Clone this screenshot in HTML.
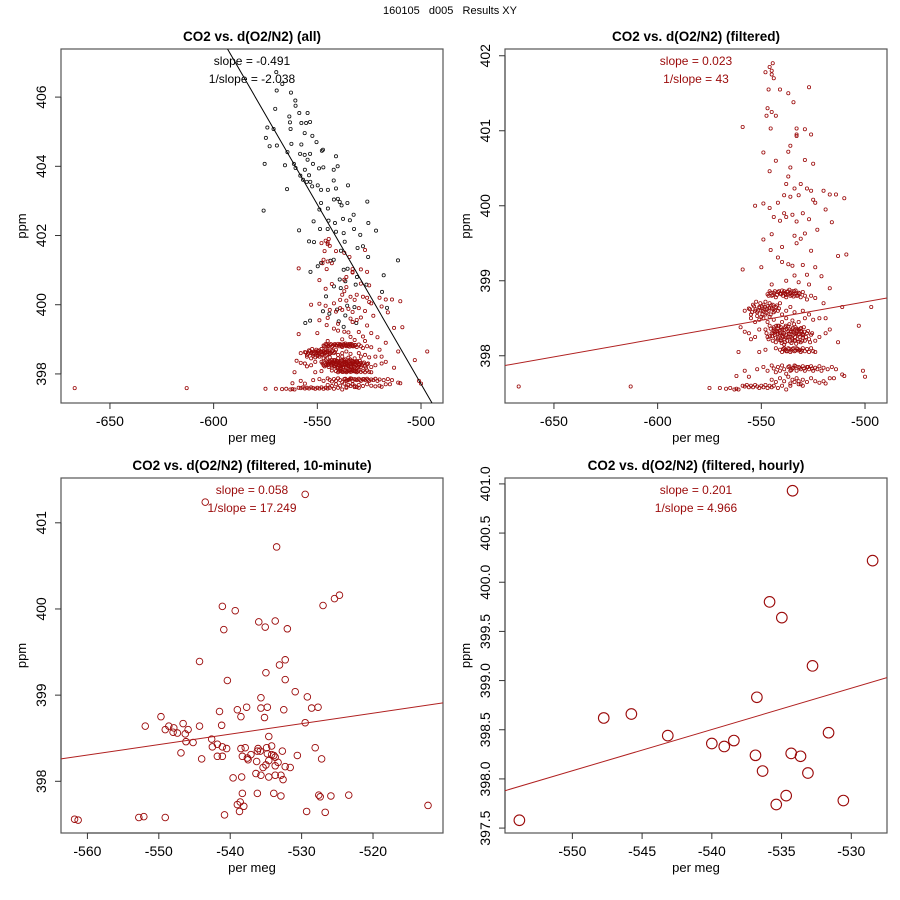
<!DOCTYPE html>
<html><head><meta charset="utf-8"><style>
body{margin:0;background:#fff}
svg{display:block;font-family:"Liberation Sans",Arial,sans-serif}
</style></head><body>
<svg id="chart" width="900" height="900" viewBox="0 0 900 900">
<rect x="0" y="0" width="900" height="900" fill="#fff"/>
<text x="450" y="14" text-anchor="middle" font-size="11" fill="#000" style="white-space:pre" xml:space="preserve">160105   d005   Results XY</text>
</svg>
<script>
// ---------- data ----------
const blackOnlyPts = [[-569.8,406.72],[-566.9,406.38],[-569.6,406.19],[-562.7,406.13],[-560.6,405.9],[-560.5,405.75],[-570.3,405.66],[-558.7,405.54],[-554.7,405.54],[-563.5,405.44],[-563.2,405.27],[-557.7,405.25],[-555.4,405.25],[-553.5,405.28],[-574.1,405.12],[-562.9,405.08],[-571.1,405.08],[-556.1,404.96],[-552.4,404.88],[-574.8,404.82],[-573,404.58],[-569.5,404.6],[-562.5,404.65],[-557.7,404.63],[-550.4,404.7],[-547.8,404.45],[-547.3,404.48],[-564.4,404.41],[-558.3,404.36],[-556.1,404.33],[-553.5,404.36],[-554.7,404.19],[-561.3,404.07],[-560.5,403.95],[-565.6,404.03],[-552.1,404.07],[-549.2,403.94],[-547.1,403.97],[-541,404.29],[-540.2,404.0],[-542.1,403.9],[-556,403.9],[-558.2,403.73],[-554,403.74],[-556.9,403.61],[-555.1,403.55],[-553.4,403.55],[-552.5,403.42],[-542.1,403.59],[-535.2,403.45],[-564.6,403.34],[-549.8,403.45],[-548.2,403.32],[-544.9,403.32],[-541,403.36],[-542,403.04],[-540.1,403.06],[-539.2,402.97],[-538.3,402.87],[-535.5,402.94],[-548.2,402.94],[-544.9,402.78],[-549,402.75],[-525.9,402.98],[-532.5,402.6],[-537.6,402.48],[-534.3,402.44],[-551.8,402.41],[-544.6,402.43],[-541.5,402.36],[-525.4,402.36],[-548.7,402.19],[-545,402.19],[-532.3,402.19],[-541,402.11],[-537.3,402.07],[-521.7,402.14],[-558.8,402.15],[-529.3,402.02],[-536.8,401.82],[-554,401.83],[-551.6,401.81],[-530.6,401.64],[-528,401.69],[-538.6,401.56],[-548.2,401.21],[-543.7,401.27],[-542.1,401.3],[-525.5,401.38],[-511.1,401.28],[-549.8,401.11],[-553.3,400.95],[-537.3,401.01],[-535.4,401.04],[-530.9,400.8],[-518,400.85],[-539.2,400.73],[-536.5,400.68],[-531.5,400.58],[-526.3,400.58],[-518.8,400.37],[-516.4,399.91],[-545.8,400.24],[-542,400.53],[-538.7,400.48],[-535.6,399.97],[-532.1,399.93],[-536.5,399.69],[-544.2,399.74],[-540.5,399.86],[-555.8,399.47],[-553.5,399.54],[-539.7,399.52],[-531.2,399.47],[-575.9,402.72],[-575.4,404.07],[-537.3,399.36],[-547.3,399.81]];

const filteredPts = [[-546,401.85],[-544.5,401.9],[-545,401.8],[-548,401.78],[-544,401.7],[-545,401.75],[-541,401.55],[-546.5,401.55],[-537,401.5],[-527,401.58],[-534.5,401.38],[-547,401.3],[-547.5,401.2],[-545,401.25],[-543,401.2],[-559,401.05],[-545.5,401.03],[-533,401.03],[-529,401.02],[-533,400.95],[-533,400.93],[-526,400.95],[-536,400.8],[-537,400.72],[-549,400.71],[-543,400.6],[-529,400.61],[-525,400.56],[-546,400.46],[-536,400.51],[-537,400.39],[-538,400.29],[-531,400.29],[-528,400.23],[-526,400.2],[-534,400.23],[-539,400.14],[-532,400.14],[-520,400.2],[-514,400.15],[-510,400.1],[-517,400.15],[-524,400.04],[-525,400.08],[-536,400.12],[-542,400.04],[-549,400.03],[-553,400.0],[-546,399.97],[-544,399.85],[-539,399.9],[-541,399.8],[-538,399.85],[-535,399.88],[-530,399.9],[-527,399.82],[-533,399.79],[-519,399.95],[-516,399.78],[-523,399.68],[-529,399.63],[-534,399.6],[-545,399.62],[-549,399.55],[-531,399.56],[-540,399.45],[-533,399.5],[-526,399.4],[-545.5,399.41],[-542,399.31],[-509,399.35],[-513,399.33],[-540,399.25],[-535,399.2],[-537,399.22],[-530,399.21],[-524,399.18],[-550,399.18],[-528,399.08],[-534,399.07],[-521,399.06],[-559,399.15],[-538,399.0],[-545,398.95],[-532,398.98],[-527,398.95],
[-547,398.82],[-546,398.86],[-545,398.8],[-544,398.84],[-543,398.78],[-542,398.85],[-541,398.83],[-540,398.87],[-539.5,398.8],[-539,398.86],[-538.5,398.83],[-538,398.78],[-537.5,398.85],[-537,398.82],[-536.5,398.88],[-536,398.8],[-535.5,398.84],[-535,398.86],[-534.5,398.79],[-534,398.83],[-533.5,398.87],[-533,398.8],[-532,398.84],[-531,398.78],[-530,398.85],[-529,398.8],[-528,398.75],[-526,398.8],[-524,398.77],[-520,398.7],[-517,398.9],
[-558,398.6],[-556,398.63],[-555,398.55],[-554,398.68],[-553,398.6],[-552.5,398.72],[-552,398.58],[-551,398.65],[-550.5,398.7],[-550,398.6],[-549.5,398.55],[-549,398.68],[-548.5,398.62],[-548,398.72],[-547.5,398.57],[-547,398.66],[-546.5,398.6],[-546,398.7],[-545.5,398.55],[-545,398.63],[-544.5,398.68],[-544,398.58],[-543,398.65],[-542,398.6],[-541,398.7],[-540,398.55],[-538,398.6],[-536,398.65],[-534,398.58],[-530,398.6],[-527,398.55],[-522,398.5],[-511,398.65],[-497,398.65],
[-555,398.5],[-553,398.45],[-551,398.48],[-549,398.5],[-547,398.45],[-546,398.52],[-544,398.48],[-542,398.4],[-540,398.45],[-538,398.5],[-535,398.47],[-532,398.45],[-529,398.5],[-525,398.48],[-519,398.5],
[-548,398.35],[-547,398.25],[-546,398.4],[-545,398.3],[-544.5,398.2],[-544,398.38],[-543.5,398.28],[-543,398.18],[-542.5,398.33],[-542,398.23],[-541.5,398.4],[-541,398.3],[-540.5,398.2],[-540,398.35],[-539.5,398.25],[-539,398.15],[-538.5,398.38],[-538,398.28],[-537.5,398.2],[-537,398.33],[-536.5,398.42],[-536,398.25],[-535.5,398.17],[-535,398.35],[-534.5,398.28],[-534,398.2],[-533.5,398.38],[-533,398.3],[-532.5,398.22],[-532,398.35],[-531.5,398.25],[-531,398.18],[-530.5,398.32],[-530,398.24],[-529.5,398.38],[-529,398.2],[-528,398.3],[-527,398.22],[-526,398.28],[-524,398.2],[-522,398.25],[-519,398.3],[-517,398.35],[-513,398.18],[-503,398.4],
[-545.5,398.36],[-544.8,398.26],[-543.2,398.32],[-541.8,398.36],[-540.8,398.27],[-539.8,398.31],[-538.8,398.22],[-537.8,398.36],[-536.8,398.29],[-535.8,398.32],[-534.8,398.37],[-533.8,398.25],[-532.8,398.33],[-531.8,398.29],[-530.8,398.37],[-529.8,398.27],[-538.2,398.4],[-534.2,398.42],[-536.2,398.19],[-533.2,398.16],[-540.2,398.17],[-542.8,398.4],
[-556,398.3],[-553,398.25],[-551,398.35],[-555,398.22],[-558,398.32],[-560,398.38],
[-541,398.08],[-540,398.05],[-539,398.1],[-538,398.06],[-537,398.1],[-536,398.05],[-535,398.09],[-534,398.06],[-533,398.1],[-532,398.07],[-531,398.05],[-530,398.1],[-529,398.06],[-528,398.09],[-527,398.05],[-526,398.1],[-525,398.06],[-543,398.1],[-548,398.08],[-551,398.05],[-561,398.05],[-524,398.05],
[-552,397.82],[-549,397.85],[-547,397.8],[-545,397.87],[-544,397.83],[-543,397.78],[-542,397.85],[-541,397.8],[-540,397.87],[-539,397.82],[-538,397.76],[-537,397.85],[-536,397.8],[-535,397.83],[-534,397.87],[-533,397.8],[-532,397.85],[-531,397.82],[-530,397.86],[-529,397.8],[-528,397.85],[-527,397.82],[-526,397.86],[-525,397.8],[-524,397.84],[-523,397.82],[-522,397.86],[-521,397.8],[-520,397.84],[-518,397.82],[-516,397.85],[-514,397.82],[-511,397.75],[-510,397.73],[-501,397.8],[-500,397.72],[-558,397.8],[-556,397.72],[-562,397.73],
[-545,397.68],[-543,397.65],[-541,397.7],[-539,397.66],[-537,397.72],[-536,397.63],[-535,397.68],[-534,397.65],[-533,397.7],[-532,397.66],[-531,397.62],[-530,397.68],[-528,397.65],[-526,397.7],[-524,397.66],[-522,397.64],[-520,397.66],[-519,397.63],[-517,397.7],[-515,397.7],
[-575,397.57],[-570,397.57],[-567,397.56],[-565,397.57],[-563,397.55],[-562,397.56],[-561,397.55],[-559,397.6],[-558,397.59],[-557,397.61],[-556,397.58],[-555,397.6],[-554,397.58],[-553,397.61],[-552,397.59],[-551,397.57],[-550,397.6],[-549,397.58],[-548,397.61],[-547,397.57],[-546,397.6],[-545,397.58],[-544,397.6],[-542,397.57],[-540,397.6],[-538,397.55],[-536,397.6],[-532,397.62],[-530,397.6],[-667,397.59],[-613,397.59]];

const filteredPtsDense = [[-555.5,398.62],[-554.5,398.58],[-553.5,398.66],[-552.8,398.62],[-551.5,398.6],[-550.8,398.64],[-549.8,398.66],[-549.2,398.6],[-548.2,398.65],[-547.2,398.62],[-546.2,398.64],[-545.2,398.67],[-544.2,398.62],[-543.5,398.6],[-542.5,398.67],[-541.5,398.63],[-552,398.53],[-550,398.52],[-548,398.55],
[-546.5,398.8],[-545.5,398.84],[-544.5,398.81],[-543.5,398.86],[-542.5,398.81],[-541.5,398.86],[-540.5,398.82],[-539.2,398.84],[-538.2,398.81],[-537.2,398.86],[-536.2,398.83],[-535.2,398.81],[-534.2,398.86],[-533.2,398.83],[-532.5,398.8],[-531.5,398.83],
[-547.5,398.3],[-546.5,398.22],[-545.8,398.26],[-544.2,398.3],[-543.8,398.36],[-542.2,398.29],[-541.2,398.21],[-540.6,398.38],[-539.2,398.34],[-538.6,398.18],[-537.2,398.25],[-536.6,398.35],[-535.2,398.24],[-534.6,398.32],[-533.6,398.2],[-532.2,398.28],[-531.2,398.36],[-530.2,398.2],[-529.2,398.32],[-528.5,398.25],[-527.5,398.33],[-526.5,398.18],[-525.5,398.3],
[-539,398.3],[-538,398.24],[-537,398.39],[-536,398.29],[-535,398.22],[-534,398.3],[-533,398.36],[-532,398.19],[-531,398.33],[-530,398.29],[-540,398.26],[-541,398.34],[-542,398.31],[-543,398.24],[-544,398.33],
[-539.5,398.09],[-538.5,398.08],[-537.5,398.06],[-536.5,398.09],[-535.5,398.07],[-534.5,398.1],[-533.5,398.07],[-532.5,398.09],[-531.5,398.08],[-530.5,398.07],
[-536.5,397.86],[-535.5,397.81],[-534.5,397.84],[-533.5,397.86],[-531.5,397.84],[-529.5,397.83],[-527.5,397.85],[-525.5,397.83]];

const tenMinX = [-543.5,-529.5,-533.5,-541.1,-539.3,-527.0,-525.4,-524.7,-536.0,-533.7,-535.1,-540.9,-532.0,-544.3,-532.3,-533.1,-535.0,-540.4,-532.3,-530.9,-535.7,-529.2,-539.0,-537.7,-535.7,-534.8,-528.6,-527.7,-541.5,-532.5,-538.5,-535.2,-549.7,-551.9,-548.6,-547.9,-546.6,-544.3,-541.2,-529.5,-549.1,-548.0,-547.4,-546.3,-545.9,-546.2,-545.2,-542.6,-534.6,-542.5,-541.8,-541.1,-540.5,-538.5,-537.9,-536.1,-535.8,-534.9,-534.2,-546.9,-544.0,-541.8,-541.1,-538.3,-537.5,-537.1,-537.6,-536.3,-536.2,-534.8,-534.2,-533.9,-532.7,-530.6,-528.1,-527.2,-534.6,-533.7,-533.3,-535.0,-535.4,-533.7,-532.3,-531.6,-536.4,-535.7,-534.6,-533.7,-532.9,-532.6,-539.6,-538.4,-538.3,-536.2,-533.9,-532.9,-527.6,-527.4,-525.9,-523.4,-539.0,-538.6,-538.1,-538.7,-540.8,-529.3,-526.7,-512.3,-561.8,-561.3,-552.8,-552.1,-549.1];
const tenMinY = [401.24,401.33,400.72,400.03,399.98,400.04,400.12,400.16,399.85,399.86,399.79,399.76,399.77,399.39,399.41,399.35,399.26,399.17,399.18,399.04,398.97,398.98,398.83,398.86,398.85,398.86,398.85,398.86,398.81,398.83,398.75,398.74,398.75,398.64,398.64,398.62,398.67,398.64,398.65,398.68,398.60,398.57,398.56,398.55,398.60,398.46,398.45,398.49,398.52,398.40,398.43,398.40,398.38,398.38,398.39,398.38,398.35,398.39,398.41,398.33,398.26,398.29,398.29,398.29,398.25,398.31,398.27,398.23,398.35,398.32,398.31,398.30,398.35,398.30,398.39,398.26,398.24,398.28,398.22,398.19,398.16,398.18,398.17,398.16,398.09,398.07,398.05,398.07,398.07,398.02,398.04,398.05,397.86,397.86,397.86,397.83,397.84,397.82,397.83,397.84,397.73,397.76,397.71,397.65,397.61,397.65,397.64,397.72,397.56,397.55,397.58,397.59,397.58];

const hourlyX = [-553.8,-547.75,-545.77,-543.16,-540.0,-539.11,-538.42,-536.87,-536.77,-536.36,-535.86,-534.98,-535.38,-534.67,-534.31,-534.21,-533.64,-533.11,-532.78,-531.63,-530.57,-528.47];
const hourlyY = [397.58,398.62,398.66,398.44,398.36,398.33,398.39,398.24,398.83,398.08,399.80,399.64,397.74,397.83,398.26,400.93,398.23,398.06,399.15,398.47,397.78,400.22];

const fitAllX = [-593.3,-494.7], fitAllY = [407.39,397.16];
const fitFiltX = [-673.6,-489.4], fitFiltY = [397.87,398.77];
const fitTenX = [-563.7,-510.2], fitTenY = [398.26,398.91];
const fitHourX = [-554.83,-527.44], fitHourY = [397.88,399.03];

const xTicksTop = [-650,-600,-550,-500];
const yTicksAll = [398,400,402,404,406];
const yTicksFilt = [398,399,400,401,402];
const xTicksTen = [-560,-550,-540,-530,-520];
const yTicksTen = [398,399,400,401];
const xTicksHour = [-550,-545,-540,-535,-530];
const yTicksHour = [397.5,398.0,398.5,399.0,399.5,400.0,400.5,401.0];

// ---------- drawing ----------
const NS='http://www.w3.org/2000/svg';
const svg=document.getElementById('chart');
const RED='#9b0a0a';
function mk(tag,attrs,parent){const e=document.createElementNS(NS,tag);for(const k in attrs)e.setAttribute(k,attrs[k]);(parent||svg).appendChild(e);return e;}

function panel(cfg){
  const g=mk('g',{});
  
  
  const sx=v=>cfg.L+(v-cfg.x0)/(cfg.x1-cfg.x0)*(cfg.R-cfg.L);
  const sy=v=>cfg.B-(v-cfg.y0)/(cfg.y1-cfg.y0)*(cfg.B-cfg.T);
  cfg.sx=sx;cfg.sy=sy;cfg.g=g;
  const cp='clip-'+cfg.name;
  const cl=mk('clipPath',{id:cp},g);mk('rect',{x:cfg.L,y:cfg.T,width:cfg.R-cfg.L,height:cfg.B-cfg.T},cl);
  cfg.clip='url(#'+cp+')';
  const box=mk('rect',{x:cfg.L,y:cfg.T,width:cfg.R-cfg.L,height:cfg.B-cfg.T,fill:'none',stroke:'#555',"stroke-width":1.2},g);
  
  
  const xa=mk('g',{},g);
  
  
  const xt=cfg.xticks;
  mk('line',{x1:sx(xt[0]),x2:sx(xt[xt.length-1]),y1:cfg.B,y2:cfg.B,stroke:'#333'},xa);
  xt.forEach(v=>{
    mk('line',{x1:sx(v),x2:sx(v),y1:cfg.B,y2:cfg.B+6,stroke:'#333'},xa);
    const t=mk('text',{x:sx(v),y:cfg.B+23,"text-anchor":'middle',"font-size":14},xa);t.textContent=v;
    
    
  });
  const xl=mk('text',{x:(cfg.L+cfg.R)/2,y:cfg.B+39,"text-anchor":'middle',"font-size":13},g);xl.textContent='per meg';
  
  
  const ya=mk('g',{},g);
  
  
  const yt=cfg.yticks;
  mk('line',{x1:cfg.L,x2:cfg.L,y1:sy(yt[0]),y2:sy(yt[yt.length-1]),stroke:'#333'},ya);
  yt.forEach(v=>{
    mk('line',{x1:cfg.L-6,x2:cfg.L,y1:sy(v),y2:sy(v),stroke:'#333'},ya);
    const xx=cfg.L-15,yy=sy(v);
    const t=mk('text',{x:xx,y:yy,"text-anchor":'middle',"font-size":14,transform:`rotate(-90 ${xx} ${yy})`},ya);
    t.textContent=cfg.yfmt?v.toFixed(1):v;
    
    
  });
  const yx=cfg.L-35,yy=(cfg.T+cfg.B)/2;
  const yl=mk('text',{x:yx,y:yy,"text-anchor":'middle',"font-size":13,transform:`rotate(-90 ${yx} ${yy})`},g);yl.textContent='ppm';
  
  
  const tt=mk('text',{x:(cfg.L+cfg.R)/2,y:cfg.T-8,"text-anchor":'middle',"font-size":13.5,"font-weight":'bold'},g);tt.textContent=cfg.title;
  
  
  const s1=mk('text',{x:(cfg.L+cfg.R)/2,y:cfg.T+16,"text-anchor":'middle',"font-size":12,fill:cfg.txtCol},g);s1.textContent=cfg.s1;
  
  
  const s2=mk('text',{x:(cfg.L+cfg.R)/2,y:cfg.T+34,"text-anchor":'middle',"font-size":12,fill:cfg.txtCol},g);s2.textContent=cfg.s2;
  
  
  return cfg;
}
function points(cfg,xs,ys,r,col,sw,name){
  const g=mk('g',{"clip-path":cfg.clip},cfg.g);
  
  
  for(let i=0;i<xs.length;i++){
    const c=mk('circle',{cx:cfg.sx(xs[i]).toFixed(2),cy:cfg.sy(ys[i]).toFixed(2),r:r,fill:'none',stroke:col,"stroke-width":sw},g);
    
    
  }
}
function fit(cfg,xs,ys,col){
  const l=mk('line',{x1:cfg.sx(xs[0]),y1:cfg.sy(ys[0]),x2:cfg.sx(xs[1]),y2:cfg.sy(ys[1]),stroke:col,"stroke-width":1,"clip-path":cfg.clip},cfg.g);
  
  
}
const allFilt = filteredPts.concat(filteredPtsDense);

const p1=panel({name:'panel-all',L:61,R:443,T:49,B:403,x0:-673.6,x1:-489.4,y0:397.16,y1:407.39,xticks:xTicksTop,yticks:yTicksAll,title:'CO2 vs. d(O2/N2) (all)',s1:'slope = -0.491',s2:'1/slope = -2.038',txtCol:'#000'});
points(p1,blackOnlyPts.map(p=>p[0]),blackOnlyPts.map(p=>p[1]),1.6,'#111',0.8,'unfiltered-points');
points(p1,allFilt.map(p=>p[0]),allFilt.map(p=>p[1]),1.6,RED,0.8,'filtered-points');
fit(p1,fitAllX,fitAllY,'#000');

const p2=panel({name:'panel-filtered',L:505,R:887,T:49,B:403,x0:-673.6,x1:-489.4,y0:397.37,y1:402.09,xticks:xTicksTop,yticks:yTicksFilt,title:'CO2 vs. d(O2/N2) (filtered)',s1:'slope = 0.023',s2:'1/slope = 43',txtCol:RED});
points(p2,allFilt.map(p=>p[0]),allFilt.map(p=>p[1]),1.6,RED,0.8,'filtered-points');
fit(p2,fitFiltX,fitFiltY,'#b02020');

const p3=panel({name:'panel-ten-minute',L:61,R:443,T:478,B:833,x0:-563.7,x1:-510.2,y0:397.40,y1:401.52,xticks:xTicksTen,yticks:yTicksTen,title:'CO2 vs. d(O2/N2) (filtered, 10-minute)',s1:'slope = 0.058',s2:'1/slope = 17.249',txtCol:RED});
points(p3,tenMinX,tenMinY,3.3,RED,0.9,'ten-minute-points');
fit(p3,fitTenX,fitTenY,'#b02020');

const p4=panel({name:'panel-hourly',L:505,R:887,T:478,B:833,x0:-554.83,x1:-527.44,y0:397.45,y1:401.06,xticks:xTicksHour,yticks:yTicksHour,yfmt:true,title:'CO2 vs. d(O2/N2) (filtered, hourly)',s1:'slope = 0.201',s2:'1/slope = 4.966',txtCol:RED});
points(p4,hourlyX,hourlyY,5.3,RED,1.1,'hourly-points');
fit(p4,fitHourX,fitHourY,'#b02020');
</script>
</body></html>
